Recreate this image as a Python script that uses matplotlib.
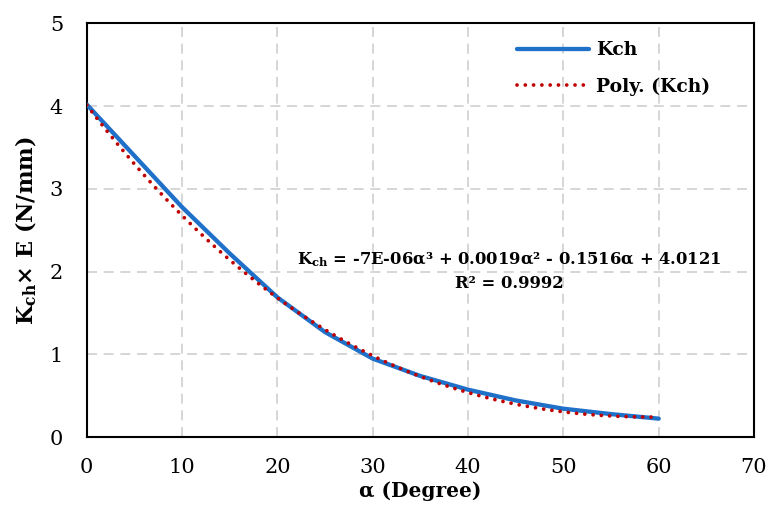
import numpy as np
import matplotlib
matplotlib.use('Agg')
import matplotlib.pyplot as plt

plt.rcParams['font.family'] = ['DejaVu Serif']
plt.rcParams['mathtext.fontset'] = 'dejavuserif'

# Kch x E versus angle alpha
alpha = [0, 5, 10, 15, 20, 25, 30, 35, 40, 45, 50, 55, 60]
kch = [4.02, 3.40, 2.78, 2.22, 1.69, 1.27, 0.95, 0.74, 0.575, 0.445, 0.345, 0.28, 0.225]

# cubic trendline coefficients (highest power first) and its R^2
poly_coef = [-7e-06, 0.0019, -0.1516, 4.0121]
r_squared = 0.9992

x_ticks = [0, 10, 20, 30, 40, 50, 60, 70]
y_ticks = [0, 1, 2, 3, 4, 5]

fig = plt.figure(figsize=(7.7, 5.13), dpi=100)
ax = fig.add_axes([0.1126, 0.1476, 0.8667, 0.807])

ax.plot(alpha, kch, color='#1F70C8', linewidth=3.1, solid_capstyle='round',
        solid_joinstyle='round', label='Kch', zorder=3)

a_fit = np.linspace(alpha[0], alpha[-1], 400)
ax.plot(a_fit, np.polyval(poly_coef, a_fit), color='#C00000', linewidth=2.7,
        linestyle=(0, (0.01, 2.2)), dash_capstyle='round',
        label='Poly. (Kch)', zorder=4)

ax.set_xlim(0, 70)
ax.set_ylim(0, 5)
ax.set_xticks(x_ticks)
ax.set_yticks(y_ticks)
ax.tick_params(axis='both', length=0, labelsize=15)
ax.tick_params(axis='x', pad=15)
ax.tick_params(axis='y', pad=17)
ax.grid(True, color='#D0D0D0', linestyle=(0, (6, 4)), linewidth=1.2)
ax.set_axisbelow(True)
for s in ax.spines.values():
    s.set_linewidth(1.5)
    s.set_color('black')

ax.set_xlabel(r'α (Degree)', fontsize=14.5, fontweight='bold', labelpad=3)
ax.set_ylabel(r'K$_{\mathbf{ch}}$× E (N/mm)', fontsize=16, fontweight='bold',
              labelpad=8)

eq = (r'K$_{\mathbf{ch}}$ = -7E-06α³ + 0.0019α² - 0.1516α + 4.0121'
      '\n' f'R² = {r_squared}')
ax.text(44.3, 2.01, eq, ha='center', va='center', multialignment='center',
        fontsize=11.8, fontweight='bold', linespacing=1.45)

ax.legend(loc='upper left', bbox_to_anchor=(0.650, 0.952),
          bbox_transform=fig.transFigure, frameon=False,
          handlelength=3.8, handletextpad=0.4, labelspacing=0.95,
          prop={'weight': 'bold', 'size': 13.5})

fig.savefig('out.png', dpi=100)
